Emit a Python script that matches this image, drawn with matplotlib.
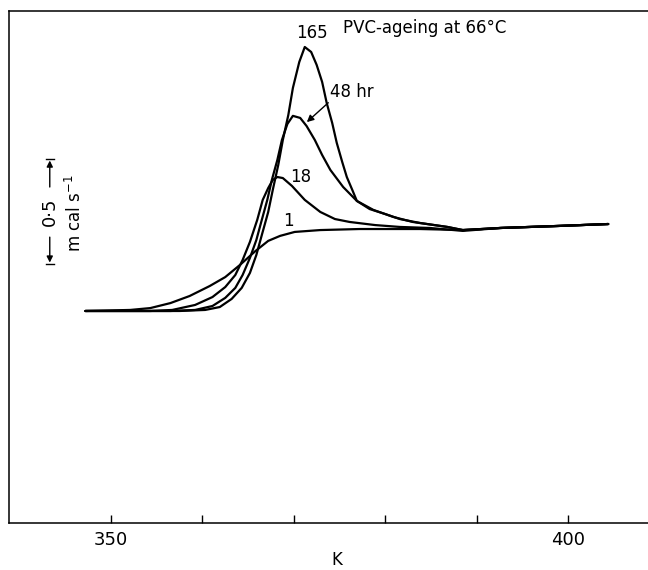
import numpy as np
import matplotlib
matplotlib.use("Agg")
import matplotlib.pyplot as plt

# temperature (K) and heat flow (mcal/s above baseline)
T1 = [347.2, 352.1, 354.3, 356.5, 358.6, 360.8, 362.5, 364.1, 365.8, 367.2, 368.5, 370.1,
      372.9, 377.2, 383.8, 388.5, 392.6, 399.1, 404.4]
Q1 = [0, 0.005, 0.014, 0.038, 0.072, 0.120, 0.163, 0.221, 0.288, 0.337, 0.361, 0.380,
      0.389, 0.394, 0.394, 0.389, 0.399, 0.409, 0.418]

T18 = [347.2, 354.3, 356.7, 359.2, 361.1, 362.5, 363.6, 364.4, 365.2, 366.0, 366.6, 367.2,
       367.7, 368.2, 368.8, 369.8, 371.2, 372.9, 374.5, 376.1, 378.9, 381.6, 384.9, 388.5,
       392.6, 399.1, 404.4]
Q18 = [0, 0, 0.005, 0.029, 0.067, 0.115, 0.173, 0.245, 0.332, 0.438, 0.534, 0.591,
       0.630, 0.644, 0.639, 0.601, 0.534, 0.476, 0.442, 0.428, 0.413, 0.404, 0.399, 0.385,
       0.399, 0.409, 0.418]

T48 = [347.2, 356.5, 359.2, 361.1, 362.5, 363.6, 364.4, 365.2, 365.9, 366.5, 367.1, 367.6,
       368.2, 368.7, 369.3, 369.9, 370.7, 371.4, 372.3, 373.1, 374.0, 375.4, 376.9, 378.7,
       380.9, 383.0, 386.8, 388.5, 392.6, 399.1, 404.4]
Q48 = [0, 0, 0.005, 0.024, 0.063, 0.111, 0.173, 0.255, 0.341, 0.438, 0.534, 0.630,
       0.726, 0.822, 0.899, 0.938, 0.928, 0.889, 0.822, 0.750, 0.678, 0.596, 0.529, 0.486,
       0.452, 0.428, 0.404, 0.389, 0.399, 0.409, 0.418]

T165 = [347.2, 357.5, 360.3, 361.9, 363.2, 364.3, 365.2, 365.9, 366.5, 367.2, 367.7, 368.3,
        368.8, 369.4, 369.9, 370.6, 371.2, 371.9, 372.5, 373.1, 373.6, 374.2, 374.7, 375.3,
        375.8, 376.4, 376.9, 378.3, 380.0, 381.6, 383.8, 386.8, 388.5, 392.6, 399.1, 404.4]
Q165 = [0, 0, 0.005, 0.019, 0.058, 0.111, 0.183, 0.269, 0.365, 0.476, 0.582, 0.702,
        0.822, 0.942, 1.072, 1.197, 1.269, 1.245, 1.183, 1.101, 1.000, 0.904, 0.808, 0.716,
        0.644, 0.582, 0.529, 0.490, 0.466, 0.442, 0.423, 0.404, 0.389, 0.399, 0.409, 0.418]

curves = [(T1, Q1), (T18, Q18), (T48, Q48), (T165, Q165)]
xticks = [350, 360, 370, 380, 390, 400]
xticklabels = ["350", "", "", "", "", "400"]

fig = plt.figure(figsize=(6.48, 5.70), dpi=100)
# axes run past the right edge of the figure, as in the cropped original
ax = fig.add_axes([0.0139, 0.0825, 1.0, 0.8982])

for T, Q in curves:
    ax.plot(T, Q, color="black", lw=1.6, solid_joinstyle="round", solid_capstyle="round")

ax.set_xlim(338.84, 409.74)
ax.set_ylim(-1.019, 1.442)
ax.set_xticks(xticks)
ax.set_xticklabels(xticklabels, fontsize=13)
ax.set_yticks([])
ax.tick_params(axis="x", direction="in", length=6, width=1.0, pad=6)
ax.spines["right"].set_visible(False)
for s in ["left", "top", "bottom"]:
    ax.spines[s].set_linewidth(1.1)
ax.set_xlabel("K", fontsize=12)
ax.xaxis.set_label_coords(0.506, -0.055)

# curve labels
ax.text(372.0, 1.337, "165", fontsize=12, ha="center", va="center")
ax.text(375.4, 1.361, "PVC-ageing at 66\u00b0C", fontsize=12, ha="left", va="center")
ax.text(374.0, 1.053, "48 hr", fontsize=12, ha="left", va="center")
ax.annotate("", xy=(371.2, 0.899), xytext=(374.0, 1.010),
            arrowprops=dict(arrowstyle="-|>", color="black", lw=1.0, mutation_scale=10))
ax.text(370.8, 0.644, "18", fontsize=12, ha="center", va="center")
ax.text(369.4, 0.433, "1", fontsize=12, ha="center", va="center")

# scale bar
xb = 343.3
ax.annotate("", xy=(xb, 0.73), xytext=(xb, 0.596),
            arrowprops=dict(arrowstyle="-|>", color="black", lw=1.0, mutation_scale=9,
                            shrinkA=0, shrinkB=1))
ax.annotate("", xy=(xb, 0.226), xytext=(xb, 0.355),
            arrowprops=dict(arrowstyle="-|>", color="black", lw=1.0, mutation_scale=9,
                            shrinkA=0, shrinkB=1))
ax.plot([xb - 0.45, xb + 0.45], [0.73, 0.73], color="black", lw=1.0)
ax.plot([xb - 0.45, xb + 0.45], [0.226, 0.226], color="black", lw=1.0)
ax.text(xb, 0.476, "0\u00b75", fontsize=13, rotation=90, ha="center", va="center")
ax.text(346.06, 0.471, "m cal s$^{-1}$", fontsize=12, rotation=90, ha="center", va="center")

fig.savefig("out.png", dpi=100)
